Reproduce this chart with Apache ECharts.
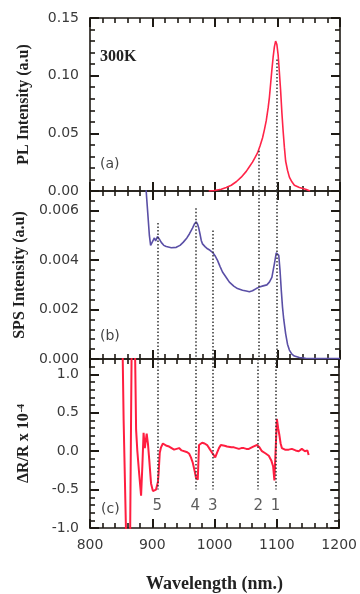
<!DOCTYPE html>
<html>
<head>
<meta charset="utf-8">
<script src="https://cdn.jsdelivr.net/npm/echarts@6/dist/echarts.min.js"></script>
<style>
html,body{margin:0;padding:0;background:#fff;}
#chart{width:360px;height:594px;}
</style>
</head>
<body>
<div id="chart"></div>
<script>
// ---- data ----
const plData = [
  [990,0.0],[999,0.0005],[1010,0.0015],[1018,0.003],[1026,0.005],[1034,0.008],[1042,0.012],
  [1050,0.017],[1055,0.021],[1060,0.025],[1064,0.029],[1068,0.033],[1072,0.039],[1076,0.046],
  [1079,0.053],[1082,0.061],[1085,0.072],[1087,0.081],[1089,0.093],[1091,0.105],[1093,0.116],
  [1095,0.125],[1097,0.13],[1099,0.127],[1101,0.118],[1103,0.103],[1105,0.087],[1107,0.068],
  [1109,0.052],[1111,0.038],[1113,0.026],[1116,0.018],[1119,0.012],[1123,0.008],[1127,0.005],
  [1135,0.003],[1145,0.0015],[1152,0.0]
];
const spsData = [
  [888,0.0075],[891,0.0064],[893,0.0057],[895,0.0050],[897,0.0046],[898,0.0046],[900,0.00452],
  [903,0.0049],[905,0.00478],[908,0.00496],[911,0.00485],[914,0.00472],[918,0.0046],[922,0.00455],
  [930,0.0045],[938,0.00452],[944,0.0046],[949,0.00472],[955,0.0049],[959,0.00506],[964,0.0053],
  [967,0.00546],[970,0.00555],[972,0.00546],[974,0.0053],[976,0.00506],[978,0.0048],[980,0.00466],
  [984,0.00455],[988,0.00446],[992,0.0044],[996,0.00432],[1000,0.00418],[1004,0.00399],
  [1008,0.00375],[1012,0.00352],[1018,0.0033],[1023,0.00311],[1030,0.00295],[1036,0.00285],
  [1044,0.00278],[1050,0.00275],[1055,0.00272],[1060,0.00276],[1066,0.00285],[1071,0.00291],
  [1077,0.00296],[1083,0.003],[1087,0.00311],[1091,0.0033],[1095,0.00385],[1098,0.0043],
  [1100,0.00435],[1102,0.0042],[1104,0.0036],[1106,0.0028],[1108,0.0021],[1110,0.0016],
  [1113,0.00103],[1116,0.0006],[1119,0.00036],[1123,0.0002],[1127,0.00012],[1135,0.00006],
  [1145,0.00003],[1160,0.00002],[1180,0.00002],[1200,0.00002]
];
const drData = [
  [852,1.5],[854,0.4],[857,0.4],[859,-1.5],[864,-1.5],[867,1.5],[872,1.5],[874,0.28],[876,0.0],
  [879,-0.3],[882,-0.58],[884,-0.2],[886,0.24],[888,0.04],[891,0.23],[893,0.1],[895,-0.1],
  [898,-0.42],[901,-0.52],[904,-0.53],[906,-0.5],[909,-0.4],[910,-0.3],[912,-0.02],[914,0.05],
  [917,0.1],[919,0.09],[923,0.07],[927,0.06],[931,0.04],[935,0.02],[939,0.03],[943,0.04],
  [947,0.01],[950,0.0],[955,-0.01],[959,-0.03],[962,-0.08],[965,-0.15],[968,-0.26],[970,-0.34],
  [973,-0.37],[975,0.08],[978,0.1],[980,0.11],[984,0.1],[988,0.08],[992,0.03],[996,-0.02],
  [1001,-0.08],[1004,-0.02],[1007,0.04],[1010,0.08],[1013,0.09],[1016,0.07],[1020,0.06],
  [1023,0.05],[1027,0.05],[1031,0.05],[1035,0.04],[1039,0.03],[1043,0.04],[1047,0.04],
  [1051,0.03],[1055,0.03],[1058,0.05],[1062,0.06],[1065,0.08],[1068,0.08],[1072,0.05],
  [1076,0.0],[1079,-0.02],[1082,-0.03],[1087,-0.06],[1091,-0.12],[1094,-0.2],[1096,-0.38],
  [1099,-0.4],[1100,0.42],[1102,0.3],[1104,0.21],[1106,0.1],[1108,0.04],[1111,0.03],
  [1113,0.02],[1116,0.03],[1119,0.02],[1122,0.01],[1124,0.03],[1127,0.01],[1130,0.01],
  [1133,-0.01],[1135,0.0],[1138,0.02],[1140,0.03],[1143,0.04],[1145,0.0],[1147,-0.01],
  [1149,0.01],[1151,-0.05]
];
// transition markers
const markX = [1098, 1070, 997, 969, 908];
const markNames = ['1', '2', '3', '4', '5'];
const markTopA = [0.114, 0.035, null, null, null];
const markTopB = [0.0068, 0.0068, 0.0052, 0.0061, 0.0055];
const markTopC = [1.2, 1.2, 1.2, 1.2, 1.2];
const markBottomC = -0.5;
const markLabelY = -0.72;
// axis ticks
const xTicks = { min: 800, max: 1200, interval: 100 };
const yA = { min: 0, max: 0.15, interval: 0.05, digits: 2 };
const yB = { min: 0, max: 0.0068, interval: 0.002, digits: 3 };
const yC = { min: -1.0, max: 1.2, interval: 0.5, digits: 1 };

// ---- styles ----
const frameColor = '#1e1a14';
const tickFont = 'DejaVu Sans';
const titleFont = 'Liberation Serif';
const grids = [
  { left: 90, right: 20, top: 18, height: 173 },
  { left: 90, right: 20, top: 191, height: 168 },
  { left: 90, right: 20, top: 359, height: 175 }
];
function majorTick() { return { show: true, inside: true, length: 9, lineStyle: { color: frameColor, width: 2 } }; }
function minorTick() { return { show: true, splitNumber: 5, length: 5, lineStyle: { color: frameColor, width: 1.6 } }; }

function xAxisFor(gi, pos, showLabels, name) {
  const ax = {
    type: 'value', gridIndex: gi, position: pos,
    min: xTicks.min, max: xTicks.max, interval: xTicks.interval,
    axisLine: { show: true, onZero: false, lineStyle: { color: frameColor, width: 1.6 } },
    axisTick: majorTick(), minorTick: minorTick(),
    splitLine: { show: false },
    axisLabel: showLabels
      ? { show: true, margin: 10, color: '#3a3a3a', fontFamily: tickFont, fontSize: 14, formatter: v => String(v) }
      : { show: false }
  };
  if (name) {
    ax.name = name; ax.nameLocation = 'middle'; ax.nameGap = 47;
    ax.nameTextStyle = { fontFamily: titleFont, fontWeight: 'bold', fontSize: 18, color: '#222' };
  }
  return ax;
}
function yAxisFor(gi, pos, cfg, showLabels, name, rich) {
  const ax = {
    type: 'value', gridIndex: gi, position: pos,
    min: cfg.min, max: cfg.max, interval: cfg.interval,
    axisLine: { show: true, onZero: false, lineStyle: { color: frameColor, width: 1.6 } },
    axisTick: majorTick(), minorTick: minorTick(),
    splitLine: { show: false },
    axisLabel: showLabels ? {
      show: true, margin: 11, color: '#3a3a3a', fontFamily: tickFont, fontSize: 14,
      formatter: v => Math.abs(v / cfg.interval - Math.round(v / cfg.interval)) < 1e-6 ? v.toFixed(cfg.digits) : ''
    } : { show: false }
  };
  if (name) {
    ax.name = name; ax.nameLocation = 'middle'; ax.nameGap = 58; ax.nameRotate = 90;
    ax.nameTextStyle = Object.assign({ fontFamily: titleFont, fontWeight: 'bold', fontSize: 16, color: '#222' },
      rich ? { rich: rich } : {});
  }
  return ax;
}

function markLinePairs(tops, bottom) {
  const out = [];
  markX.forEach((x, i) => {
    if (tops[i] != null) out.push([{ coord: [x, tops[i]] }, { coord: [x, bottom] }]);
  });
  return out;
}
const dotStyle = { color: '#333', type: [1.5, 2], width: 1.5 };

const option = {
  animation: false,
  backgroundColor: '#fff',
  grid: grids,
  xAxis: [
    xAxisFor(0, 'bottom', false), xAxisFor(0, 'top', false),
    xAxisFor(1, 'bottom', false), xAxisFor(1, 'top', false),
    xAxisFor(2, 'bottom', true, 'Wavelength (nm.)'), xAxisFor(2, 'top', false)
  ],
  yAxis: [
    yAxisFor(0, 'left', yA, true, 'PL Intensity (a.u)'), yAxisFor(0, 'right', yA, false),
    yAxisFor(1, 'left', yB, true, 'SPS Intensity (a.u)'), yAxisFor(1, 'right', yB, false),
    yAxisFor(2, 'left', yC, true, '{a|ΔR/R x 10}{b|-4}', {
      a: { fontFamily: titleFont, fontWeight: 'bold', fontSize: 16, color: '#222' },
      b: { fontFamily: titleFont, fontWeight: 'bold', fontSize: 10, color: '#222', verticalAlign: 'top', padding: [0, 0, 6, 1] }
    }), yAxisFor(2, 'right', yC, false)
  ],
  series: [
    {
      type: 'line', xAxisIndex: 0, yAxisIndex: 0, data: plData, showSymbol: false,
      lineStyle: { color: '#ff2448', width: 1.6 }, clip: true,
      markLine: { silent: true, symbol: 'none', label: { show: false }, lineStyle: dotStyle, data: markLinePairs(markTopA, 0) }
    },
    {
      type: 'line', xAxisIndex: 2, yAxisIndex: 2, data: spsData, showSymbol: false,
      lineStyle: { color: '#5a4fa6', width: 1.6 }, clip: true,
      markLine: { silent: true, symbol: 'none', label: { show: false }, lineStyle: dotStyle, data: markLinePairs(markTopB, 0) }
    },
    {
      type: 'line', xAxisIndex: 4, yAxisIndex: 4, data: drData, showSymbol: false,
      lineStyle: { color: '#ff1e40', width: 2 }, clip: true,
      markLine: { silent: true, symbol: 'none', label: { show: false }, lineStyle: dotStyle, data: markLinePairs(markTopC, markBottomC) }
    },
    {
      type: 'scatter', xAxisIndex: 4, yAxisIndex: 4, symbolSize: 1,
      itemStyle: { color: 'rgba(0,0,0,0)' },
      data: markX.map((x, i) => ({ value: [x, markLabelY], name: markNames[i] })),
      label: { show: true, position: 'inside', formatter: p => p.name, color: '#333', fontFamily: tickFont, fontSize: 15 }
    }
  ],
  graphic: [
    { type: 'text', left: 100, top: 49, style: { text: '300K', fontFamily: titleFont, fontWeight: 'bold', fontSize: 16, fill: '#222' } },
    { type: 'text', left: 100, top: 157, style: { text: '(a)', fontFamily: tickFont, fontSize: 14, fill: '#444' } },
    { type: 'text', left: 100, top: 329, style: { text: '(b)', fontFamily: tickFont, fontSize: 14, fill: '#444' } },
    { type: 'text', left: 101, top: 502, style: { text: '(c)', fontFamily: tickFont, fontSize: 14, fill: '#444' } }
  ]
};
const chart = echarts.init(document.getElementById('chart'), null, { renderer: 'canvas' });
chart.setOption(option);
</script>
</body>
</html>
